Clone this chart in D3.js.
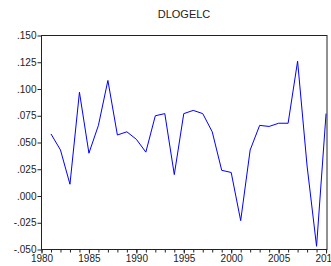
<!DOCTYPE html>
<html>
<head>
<meta charset="utf-8">
<script src="https://cdn.jsdelivr.net/npm/d3@7"></script>
<style>
  body { margin: 0; background: #fff; }
  svg { display: block; font-family: "Liberation Sans", Arial, sans-serif; }
</style>
</head>
<body>
<div id="chart"></div>
<script>
    // data
    var years = d3.range(1981, 2011)
    var values = [0.058, 0.043, 0.011, 0.097, 0.040, 0.066, 0.108, 0.057, 0.060, 0.053,
                  0.041, 0.075, 0.077, 0.020, 0.077, 0.080, 0.077, 0.060, 0.024, 0.022,
                  -0.023, 0.043, 0.066, 0.065, 0.068, 0.068, 0.126, 0.028, -0.047, 0.077]
    var yTicks = [-0.050, -0.025, 0.000, 0.025, 0.050, 0.075, 0.100, 0.125, 0.150]
    var xTicks = [1980, 1985, 1990, 1995, 2000, 2005, 2010]
    var title = "DLOGELC"

    var canvas = ({width: 331, height: 266})
    var margin = ({top: 35.5, right: 4, bottom: 16.5, left: 41.5})

    var x = d3.scaleLinear()
        .domain([1980, 2010.1])
        .range([margin.left, canvas.width - margin.right])

    var y = d3.scaleLinear()
        .domain([-0.050, 0.150])
        .range([canvas.height - margin.bottom, margin.top])

    var svg = d3.select("#chart").append("svg")
        .attr("width", canvas.width)
        .attr("height", canvas.height)

    var fmt = d => (d < 0 ? "-" : "") + d3.format(".3f")(Math.abs(d)).replace(/^0/, "")

    // x axis, yearly minor ticks
    svg.append("g")
        .attr("transform", `translate(0,${canvas.height - margin.bottom})`)
        .call(d3.axisBottom(x).tickValues(d3.range(1980, 2011)).tickSize(3).tickFormat(""))
        .call(g => g.select(".domain").remove())
        .call(g => g.selectAll("line").attr("stroke", "#222"))

    svg.append("g")
        .attr("transform", `translate(0,${canvas.height - margin.bottom})`)
        .call(d3.axisBottom(x).tickValues(xTicks).tickSize(4).tickPadding(1).tickFormat(d3.format("d")))
        .call(g => g.select(".domain").remove())
        .call(g => g.selectAll("line").attr("stroke", "#222"))
        .call(g => g.selectAll("text").attr("font-size", 10).attr("fill", "#222")
            .attr("font-family", "Liberation Sans, Arial, sans-serif"))

    svg.append("g")
        .attr("transform", `translate(${margin.left},0)`)
        .call(d3.axisLeft(y).tickValues(yTicks).tickSize(4).tickPadding(1).tickFormat(fmt))
        .call(g => g.select(".domain").remove())
        .call(g => g.selectAll("line").attr("stroke", "#222"))
        .call(g => g.selectAll("text").attr("font-size", 10).attr("fill", "#222")
            .attr("font-family", "Liberation Sans, Arial, sans-serif"))

    // frame
    svg.append("rect")
        .attr("x", margin.left)
        .attr("y", margin.top)
        .attr("width", canvas.width - margin.right - margin.left)
        .attr("height", canvas.height - margin.bottom - margin.top)
        .attr("fill", "none")
        .attr("stroke", "#222")
        .attr("stroke-width", 1)

    var line = d3.line()
        .x((d, i) => x(years[i]))
        .y(d => y(d))

    svg.append("path")
        .attr("fill", "none")
        .attr("stroke", "#0000ff")
        .attr("stroke-width", 1)
        .attr("stroke-linejoin", "round")
        .attr("d", line(values))

    svg.append("text")
        .attr("x", 184)
        .attr("y", 18)
        .attr("text-anchor", "middle")
        .attr("font-size", 11)
        .attr("fill", "#222")
        .text(title)
</script>
</body>
</html>
